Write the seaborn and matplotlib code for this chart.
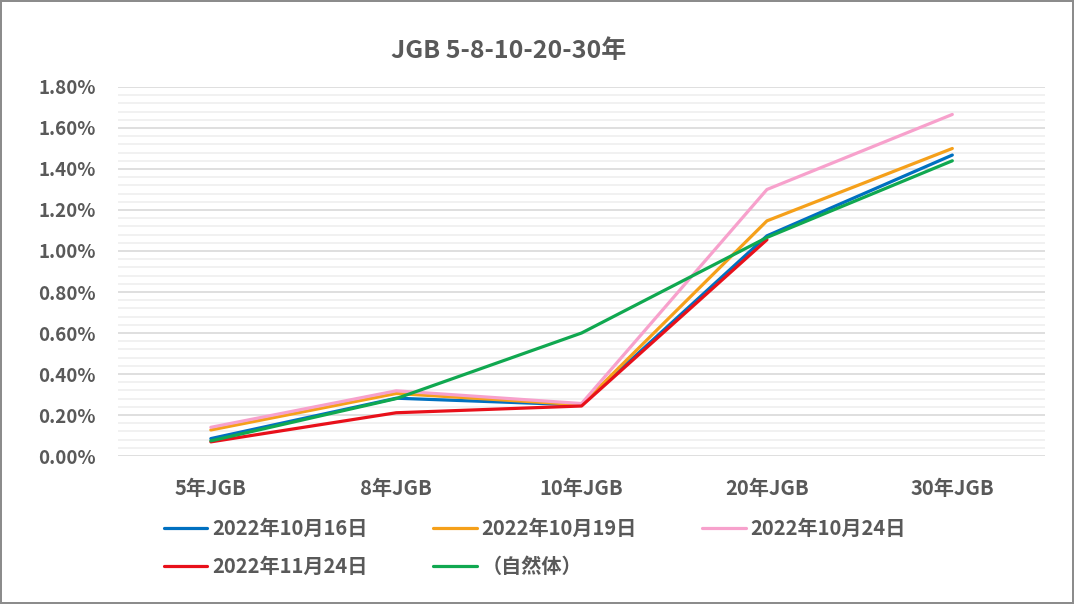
import pandas as pd
import matplotlib.pyplot as plt
import seaborn as sns
import numpy as np
from matplotlib.ticker import MultipleLocator, PercentFormatter

# データ（%）
tenor = ['5年JGB', '8年JGB', '10年JGB', '20年JGB', '30年JGB']
d1016 = [0.085, 0.282, 0.249, 1.074, 1.468]
d1019 = [0.127, 0.305, 0.250, 1.147, 1.500]
d1024 = [0.140, 0.318, 0.256, 1.300, 1.666]
d1124 = [0.069, 0.211, 0.244, 1.055, np.nan]
shizen = [0.074, 0.280, 0.600, 1.066, 1.440]

series = ['2022年10月16日', '2022年10月19日', '2022年10月24日', '2022年11月24日', '（自然体）']
colores = ['#0070C0', '#F5A01A', '#F7A1CC', '#E8101A', '#10A850']

df = pd.DataFrame({'tenor': tenor * 5,
                   'rate': d1016 + d1019 + d1024 + d1124 + shizen,
                   'serie': np.repeat(series, 5)})

sns.set_style("white")
plt.rcParams['font.family'] = ['Noto Sans CJK JP', 'DejaVu Sans']

fig = plt.figure(figsize=(10.74, 6.04), dpi=100, edgecolor='#8c8c8c', linewidth=1.5)
ax = fig.add_axes([0.110, 0.245, 0.863, 0.611])

sns.lineplot(data=df, x='tenor', y='rate', hue='serie', hue_order=series,
             palette=colores, linewidth=2.3, ax=ax, legend=False, sort=False)

ax.set_xlim(-0.5, 4.5)
ax.set_ylim(0, 1.8)
ax.yaxis.set_major_locator(MultipleLocator(0.2))
ax.yaxis.set_minor_locator(MultipleLocator(0.04))
ax.yaxis.set_major_formatter(PercentFormatter(decimals=2))
ax.grid(True, which='major', axis='y', color='#d9d9d9', linewidth=1.2)
ax.grid(True, which='minor', axis='y', color='#efefef', linewidth=1.2)
ax.set_axisbelow(True)
for s in ax.spines.values():
    s.set_visible(False)
ax.tick_params(axis='both', which='both', length=0, colors='#595959')
ax.tick_params(axis='x', pad=16, labelsize=14.5)
ax.tick_params(axis='y', pad=16, labelsize=13.5)
for lbl in ax.get_xticklabels() + ax.get_yticklabels():
    lbl.set_fontweight('bold')
ax.set_xlabel('')
ax.set_ylabel('')

fig.text(0.474, 0.915, 'JGB 5-8-10-20-30年', ha='center', va='center',
         fontsize=18, fontweight='bold', color='#595959')

# 凡例（Excel風に行方向の並び）
handles = [plt.Line2D([], [], color=c, linewidth=2.3) for c in colores]
orden = [0, 3, 1, 4, 2]
leg = fig.legend([handles[i] for i in orden], [series[i] for i in orden],
                 ncol=3, loc='upper left', bbox_to_anchor=(0.136, 0.172),
                 frameon=False, handlelength=2.15, handletextpad=0.25,
                 columnspacing=3.25, labelspacing=0.85,
                 prop={'size': 14.5, 'weight': 'bold'})
for t in leg.get_texts():
    t.set_color('#595959')

fig.savefig('out.png', dpi=100, edgecolor=fig.get_edgecolor())
